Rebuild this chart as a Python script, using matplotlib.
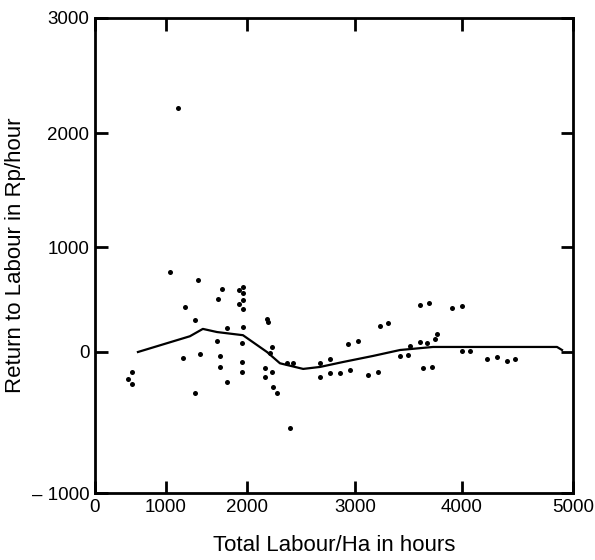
import numpy as np
import matplotlib.pyplot as plt

# ---- dados ----
labour_h = [1150, 1050, 1395, 1690, 1640, 1950, 1950, 1950, 1950, 1235,
            2185, 1360, 1755, 1950, 1630, 1940, 2230, 2215, 1210, 1420,
            1665, 1665, 1940, 1940, 2165, 2165, 2230, 1755, 2240, 2280,
            1360, 520, 520, 2400, 2370, 2425, 2675, 2770, 2675, 2770,
            2860, 2955, 3120, 3215, 2935, 3030, 3235, 3310, 3420, 3495,
            3515, 3610, 3675, 3765, 3750, 3610, 3690, 3905, 4000, 3635,
            3720, 4000, 4070, 4225, 4315, 4405, 4475, 1900, 1900, 470,
            2190]
return_rp = [2220, 760, 690, 600, 505, 620, 560, 495, 410, 430,
             315, 305, 230, 240, 105, 85, 50, -5, -40, -15,
             -30, -105, -70, -140, -115, -175, -140, -215, -250, -290,
             -290, -140, -225, -540, -80, -80, -80, -50, -175, -150,
             -150, -130, -165, -140, 75, 105, 250, 275, -30, -20,
             55, 95, 85, 170, 125, 450, 465, 420, 440, -115,
             -105, 10, 10, -50, -35, -65, -50, 590, 455, -190,
             290]

trend_x = [605, 1295, 1455, 1630, 1950, 2185, 2305, 2520, 2676, 2889,
           3168, 3421, 3729, 4162, 4459, 4856, 4901]
trend_y = [0, 150, 220, 190, 160, 0, -80, -120, -106, -71,
           -28, 19, 48, 48, 48, 48, 19]

xticks = [0, 1000, 2000, 3000, 4000, 5000]
yticks = [-1000, 0, 1000, 2000, 3000]
ytick_labels = ["\u2013 1000", "0", "1000", "2000", "3000"]

# eixos do original nao sao uniformes (escala desenhada a mao)
x_knots_px = [0, 71, 152, 260, 367, 478]
y_knots_px = [0, 141, 246, 360, 475]


def make_scale(knots, px):
    fwd = lambda v: np.interp(v, knots, px)
    inv = lambda p: np.interp(p, px, knots)
    return fwd, inv


plt.rcParams["font.family"] = ["Liberation Sans", "DejaVu Sans"]

fig = plt.figure(figsize=(5.95, 5.6), dpi=100)
ax = fig.add_axes([95 / 595, 67 / 560, 478 / 595, 475 / 560])

ax.set_xscale("function", functions=make_scale(xticks, x_knots_px))
ax.set_yscale("function", functions=make_scale(yticks, y_knots_px))

ax.plot(labour_h, return_rp, "o", color="black", ms=3.6, mew=0)
ax.plot(trend_x, trend_y, "-", color="black", lw=1.6)

ax.set_xlim(0, 5000)
ax.set_ylim(-1000, 3000)
ax.set_xticks(xticks)
ax.set_xticklabels([str(t) for t in xticks])
ax.set_yticks(yticks)
ax.set_yticklabels(ytick_labels)
ax.minorticks_off()

ax.tick_params(direction="in", length=9, width=2, labelsize=13.5,
               top=True, right=True, pad=4)
for s in ax.spines.values():
    s.set_linewidth(2)

ax.set_xlabel("Total Labour/Ha in hours", fontsize=16, labelpad=14)
ax.set_ylabel("Return to Labour in Rp/hour", fontsize=16, labelpad=4)

fig.savefig("out.png", dpi=100)
